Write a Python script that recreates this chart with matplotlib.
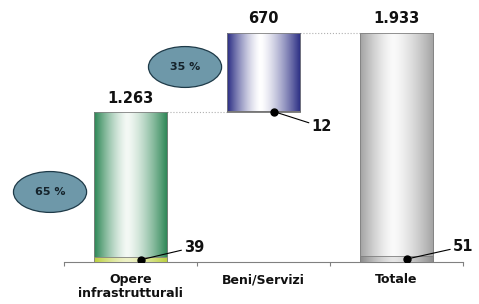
import numpy as np
import matplotlib
matplotlib.use("Agg")
import matplotlib.pyplot as plt
from matplotlib.patches import Ellipse
from matplotlib.colors import LinearSegmentedColormap

# waterfall: two components stacked, then the total
categories = ["Opere\ninfrastrutturali", "Beni/Servizi", "Totale"]
values = [1263, 670, 1933]
bottoms = [0, 1263, 0]
base_values = [39, 12, 51]          # small segment at the foot of each bar
shares = ["65 %", "35 %"]

edge_cols = ["#2a8553", "#282b82", "#a2a2a2"]
mid_cols = ["#f4f9f5", "#ffffff", "#fafafa"]
base_cols = ["#b9cf3a", "#4a4a4a", "#8a8a8a"]

fig = plt.figure(figsize=(4.79, 3.04), dpi=100)
ax = fig.add_axes([64/479, 42/304, 399/479, 262/304])
ax.set_xlim(0, 3)
ax.set_ylim(0, 1933 * 262 / 229)

x = np.arange(len(values)) + 0.5
W = 0.556
t = np.linspace(0, 1, 200)
c = 0.45
prof = np.where(t < c, (c - t) / c, (t - c) / (1 - c)) ** 1.4

def gradient_bar(xc, b, h, c_edge, c_mid, z=2):
    cmap = LinearSegmentedColormap.from_list("g", [c_mid, c_edge])
    bar = ax.bar(xc, h, W, bottom=b, color="none", edgecolor="#808080", lw=0.6, zorder=z + 1)[0]
    im = ax.imshow(prof[None, :], cmap=cmap, aspect="auto", vmin=0, vmax=1,
                   extent=(xc - W/2, xc + W/2, b, b + h), zorder=z, interpolation="bilinear")
    im.set_clip_path(bar)
    return bar

for i in range(3):
    gradient_bar(x[i], bottoms[i], values[i], edge_cols[i], mid_cols[i])
    gradient_bar(x[i], bottoms[i], base_values[i], base_cols[i],
                 "#eef2c8" if i == 0 else ("#e6e6e6" if i == 2 else base_cols[i]), z=4)
    lbl = f"{values[i]:,}".replace(",", ".")
    ax.text(x[i], bottoms[i] + values[i] + 55, lbl, ha="center", va="bottom",
            fontsize=10.5, fontweight="bold", color="#111111")

# dotted connectors between steps
ax.plot([x[0] + W/2, x[1] - W/2], [values[0]] * 2, ls=":", lw=0.8, color="#b0b0b0", zorder=1)
ax.plot([x[1] + W/2, x[2] - W/2], [bottoms[1] + values[1]] * 2, ls=":", lw=0.8, color="#b0b0b0", zorder=1)

# callouts for the small base segments
offsets = [(31, 9), (27, -11), (33, 9)]
for i in range(3):
    xy = (x[i] + 0.08, bottoms[i] + base_values[i] / 2)
    ax.plot(*xy, "o", ms=5, color="black", zorder=6)
    ax.annotate(str(base_values[i]), xy=xy, xytext=offsets[i], textcoords="offset points",
                ha="left", va="center", fontsize=10.5, fontweight="bold", color="#111111",
                arrowprops=dict(arrowstyle="-", lw=0.8, color="black", shrinkA=0, shrinkB=1),
                annotation_clip=False, zorder=6)

# share ellipses
for (ex, ey), s in zip([(-0.105, 591), (0.91, 1646)], shares):
    e = Ellipse((ex, ey), 0.55, 345, facecolor="#6e98a9", edgecolor="#1e3a48", lw=0.9, clip_on=False)
    ax.add_patch(e)
    ax.text(ex, ey, s, ha="center", va="center", fontsize=8, fontweight="bold", color="#15232b")

for sp in ["top", "left", "right"]:
    ax.spines[sp].set_visible(False)
ax.spines["bottom"].set_color("#808080")
ax.spines["bottom"].set_linewidth(0.8)
ax.set_yticks([])
ax.set_xticks([0, 1, 2, 3])
ax.set_xticklabels([])
ax.tick_params(axis="x", which="major", length=3, color="#808080", direction="out")
ax.set_xticks(x, minor=True)
ax.set_xticklabels(categories, minor=True, fontsize=9, fontweight="bold", color="#111111")
ax.tick_params(axis="x", which="minor", length=0, pad=8)
for lab in ax.get_xticklabels(minor=True):
    lab.set_linespacing(1.1)

fig.savefig("out.png", dpi=100)
